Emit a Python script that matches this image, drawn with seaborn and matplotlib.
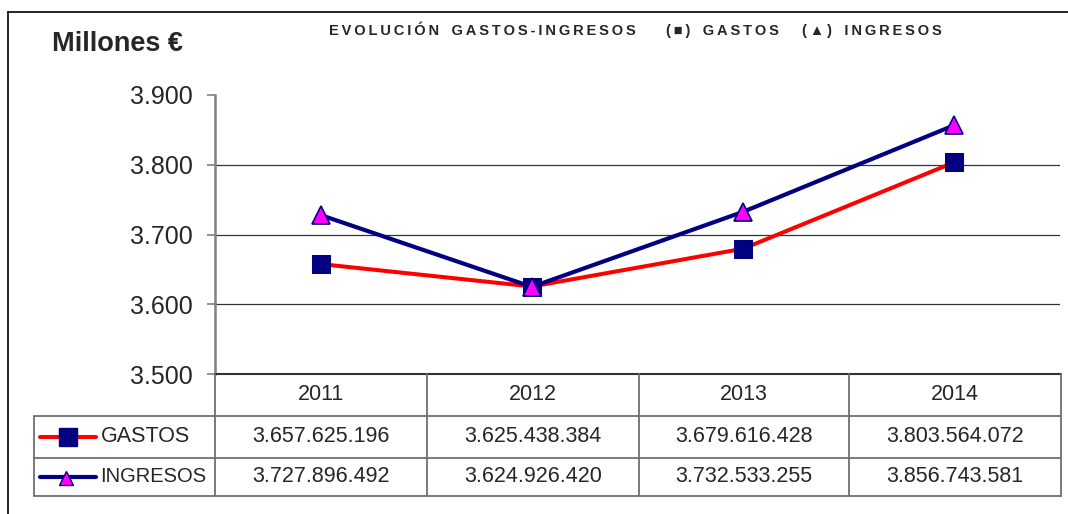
import matplotlib
matplotlib.use("Agg")
import matplotlib.pyplot as plt
from matplotlib.lines import Line2D
import seaborn as sns
import pandas as pd

# datos (euros)
years = ["2011", "2012", "2013", "2014"]
gastos = [3657625196, 3625438384, 3679616428, 3803564072]
ingresos = [3727896492, 3624926420, 3732533255, 3856743581]
yticks = [3500, 3600, 3700, 3800, 3900]

W, H = 1068, 514

sns.set_theme(style="white")
plt.rcParams['font.family'] = ['Liberation Sans', 'DejaVu Sans']


def fx(x):
    return x / W


def fy(y):
    return 1 - y / H


def miles(v):
    return f"{v:,.0f}".replace(",", ".")


def spaced(s):
    return "   ".join("\u2009".join(w) for w in s.split(" "))


df = pd.DataFrame({
    "year": years,
    "GASTOS": [v / 1e6 for v in gastos],
    "INGRESOS": [v / 1e6 for v in ingresos],
})

fig = plt.figure(figsize=(W / 100, H / 100), dpi=100)
fig.patch.set_facecolor("white")
ax = fig.add_axes([fx(215), fy(374), fx(1060) - fx(215), fy(95) - fy(374)])

sns.lineplot(data=df, x="year", y="GASTOS", ax=ax, color="#ff0000", lw=2.9,
             marker="s", markersize=13, markerfacecolor="#000080",
             markeredgecolor="#000080", sort=False, zorder=3)
sns.lineplot(data=df, x="year", y="INGRESOS", ax=ax, color="#000080", lw=3.0,
             marker="^", markersize=13, markerfacecolor="#ff00ff",
             markeredgecolor="#000080", markeredgewidth=1.2, sort=False, zorder=4)

ax.set_xlim(-0.5, len(years) - 0.5)
ax.set_ylim(yticks[0], yticks[-1])
ax.set_yticks(yticks)
ax.set_yticklabels([miles(v) for v in yticks], fontsize=18)
ax.set_xticks([])
ax.set_xlabel("")
ax.set_ylabel("")
for v in yticks[1:-1]:
    ax.axhline(v, color="#333333", lw=0.9, zorder=1)
for s in ["top", "right", "bottom"]:
    ax.spines[s].set_visible(False)
ax.spines["left"].set_color("#808080")
ax.spines["left"].set_linewidth(1.8)
ax.tick_params(axis="y", direction="out", length=6, width=1.2, color="#808080",
               pad=10, left=True)
ax.set_facecolor("none")


def fline(xs, ys, **kw):
    fig.add_artist(Line2D([fx(x) for x in xs], [fy(y) for y in ys],
                          transform=fig.transFigure, **kw))


# marco exterior
fline([8, 1068], [12, 12], color="black", lw=1.2)
fline([8, 8], [12, 514], color="black", lw=1.2)

# tabla de datos
grid = dict(color="#707070", lw=1.3)
fline([215, 1061], [374, 374], color="#333333", lw=1.5)
fline([34, 1061], [416, 416], **grid)
fline([34, 1061], [458, 458], **grid)
fline([34, 1061], [496, 496], **grid)
fline([34, 34], [416, 496], **grid)
cols = [215, 427, 639, 849, 1061]
for c in cols:
    fline([c, c], [374, 496], **grid)

rows = [437, 477]
for i, y in enumerate(years):
    cx = (cols[i] + cols[i + 1]) / 2
    fig.text(fx(cx), fy(395), y, ha="center", va="center", fontsize=15.5)
    fig.text(fx(cx), fy(rows[0]), miles(gastos[i]), ha="center", va="center", fontsize=15.5)
    fig.text(fx(cx), fy(rows[1]), miles(ingresos[i]), ha="center", va="center", fontsize=15.5)

# claves de la leyenda en la tabla
fline([40, 96], [rows[0], rows[0]], color="#ff0000", lw=2.9)
fline([68], [rows[0]], marker="s", markersize=13, markerfacecolor="#000080",
      markeredgecolor="#000080", lw=0)
fline([40, 96], [rows[1], rows[1]], color="#000080", lw=3.0)
fline([66], [rows[1] + 1], marker="^", markersize=10, markerfacecolor="#ff00ff",
      markeredgecolor="#000080", lw=0)
fig.text(fx(101), fy(rows[0]), "GASTOS", ha="left", va="center", fontsize=15.5)
fig.text(fx(100), fy(rows[1]), "INGRESOS", ha="left", va="center", fontsize=14.5)

# titulos
fig.text(fx(52), fy(44), "Millones €", ha="left", va="center", fontsize=19.5,
         fontweight="bold")
fig.text(fx(329), fy(31), spaced("EVOLUCIÓN GASTOS-INGRESOS"), ha="left",
         va="center", fontsize=10.5, fontweight="bold")
fig.text(fx(666), fy(31), spaced("(■) GASTOS"), ha="left", va="center",
         fontsize=10.5, fontweight="bold")
fig.text(fx(802), fy(31), spaced("(▲) INGRESOS"), ha="left", va="center",
         fontsize=10.5, fontweight="bold")

fig.savefig("out.png", dpi=100, facecolor="white")
